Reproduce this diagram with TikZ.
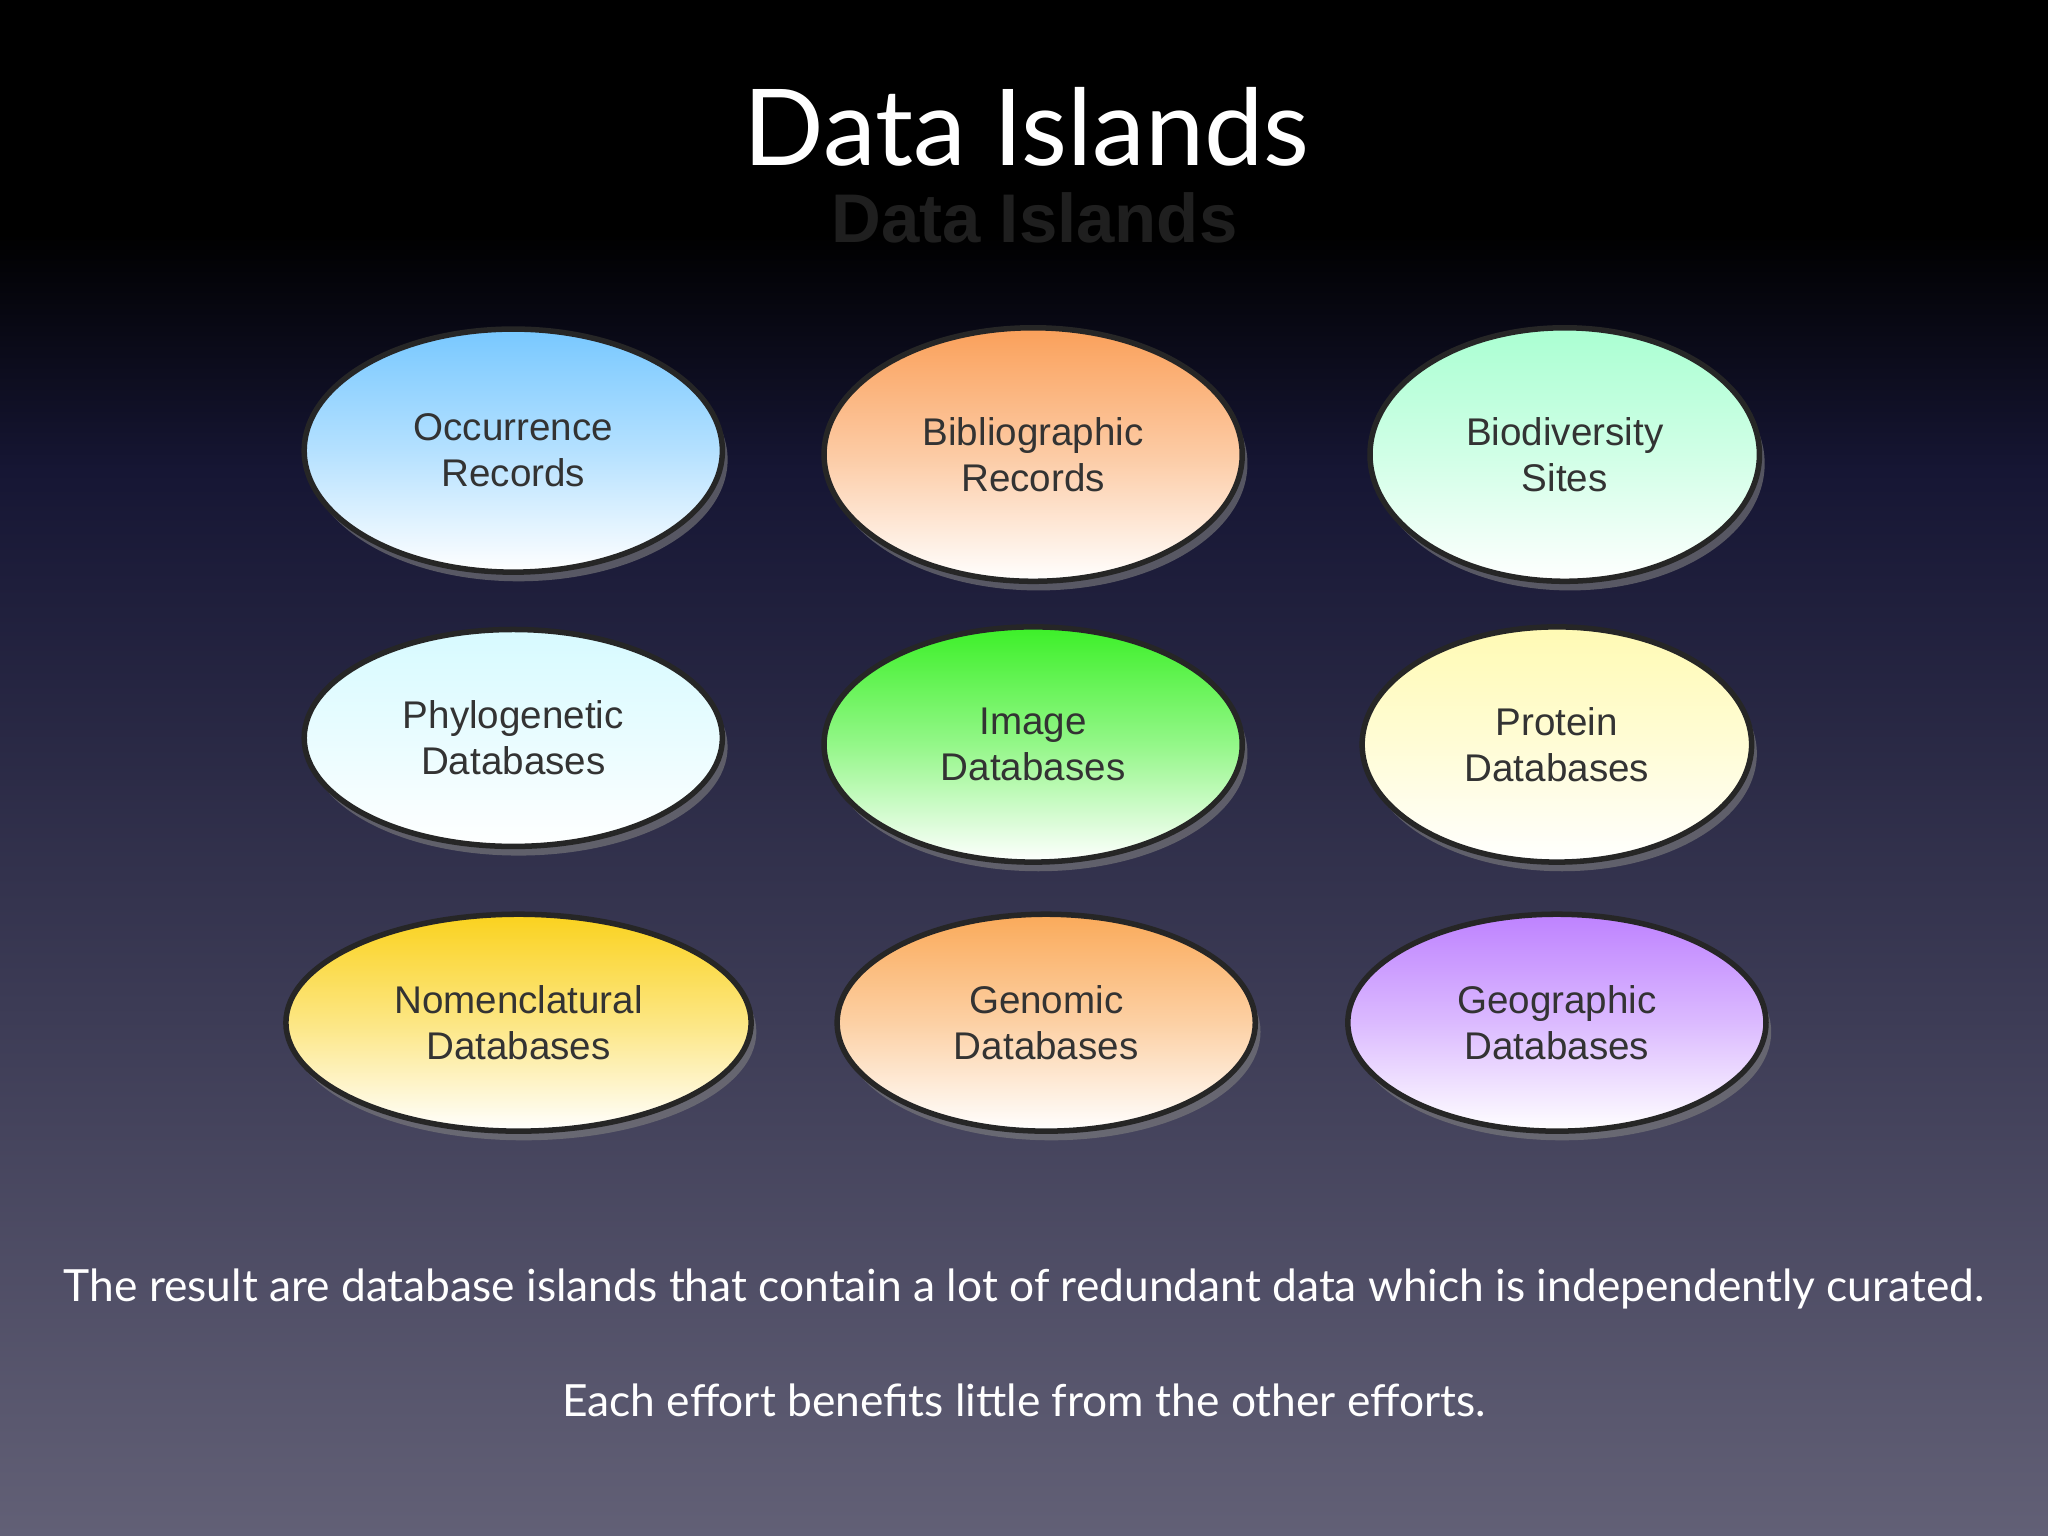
\documentclass[tikz,border=0pt]{standalone}
\usepackage{fontspec}
\setmainfont{Lato}
\newfontfamily\helv{Liberation Sans}
\usetikzlibrary{shapes.geometric,shadows}
\definecolor{bgtop}{RGB}{0,0,0}
\definecolor{bgmid}{RGB}{22,22,52}
\definecolor{bgbot}{RGB}{98,96,118}
\definecolor{cblue}{RGB}{120,200,255}
\definecolor{corange}{RGB}{250,160,90}
\definecolor{cmint}{RGB}{170,255,210}
\definecolor{cice}{RGB}{215,250,255}
\definecolor{cgreen}{RGB}{60,240,40}
\definecolor{cyel}{RGB}{255,250,180}
\definecolor{cgold}{RGB}{250,210,30}
\definecolor{cpeach}{RGB}{250,170,90}
\definecolor{cviolet}{RGB}{190,130,255}
\tikzset{
 island/.style={ellipse, draw=black!85, line width=1.2pt, inner sep=0pt,
   drop shadow={shadow xshift=0.04cm, shadow yshift=-0.07cm, opacity=0.6},
   top color=#1, bottom color=white, middle color=#1!55!white,
   font=\helv\fontsize{8.4}{10}\selectfont, text=black!80, align=center},
}
\begin{document}
\begin{tikzpicture}[x=0.01cm,y=-0.01cm]
\fill[bgtop] (0,0) rectangle (1568,180);
\shade[top color=bgtop, bottom color=bgmid] (0,179) rectangle (1568,360);
\fill[bgmid] (0,359) rectangle (1568,361);
\shade[top color=bgmid, bottom color=bgbot] (0,360) rectangle (1568,1176);
\useasboundingbox (0,0) rectangle (1568,1176);
\node[text=black!88!white, font=\helv\bfseries\fontsize{15}{18}\selectfont] (refl) at (792,167) {Data Islands};
\node[text=white, font=\fontsize{23.1}{28}\selectfont] (title) at (786,97) {Data Islands};
\node[island=cblue, minimum width=3.2cm, minimum height=1.86cm] (occ) at (393,345) {Occurrence\\Records};
\node[island=corange, minimum width=3.2cm, minimum height=1.94cm] (bib) at (791,348) {Bibliographic\\Records};
\node[island=cmint, minimum width=2.98cm, minimum height=1.94cm] (bio) at (1198,348) {Biodiversity\\Sites};
\node[island=cice, minimum width=3.2cm, minimum height=1.66cm] (phy) at (393,565) {Phylogenetic\\Databases};
\node[island=cgreen, minimum width=3.2cm, minimum height=1.8cm] (img) at (791,570) {Image\\Databases};
\node[island=cyel, minimum width=2.98cm, minimum height=1.8cm] (pro) at (1192,570) {Protein\\Databases};
\node[island=cgold, minimum width=3.56cm, minimum height=1.66cm] (nom) at (397,783) {Nomenclatural\\Databases};
\node[island=cpeach, minimum width=3.2cm, minimum height=1.66cm] (gen) at (801,783) {Genomic\\Databases};
\node[island=cviolet, minimum width=3.2cm, minimum height=1.66cm] (geo) at (1192,783) {Geographic\\Databases};
\node[text=white, font=\fontsize{9.65}{11}\selectfont] (t1) at (784,987) {The result are database islands that contain a lot of redundant data which is independently curated.};
\node[text=white, font=\fontsize{9.65}{11}\selectfont] (t2) at (784,1072) {Each effort benefits little from the other efforts.};
\end{tikzpicture}
\end{document}
